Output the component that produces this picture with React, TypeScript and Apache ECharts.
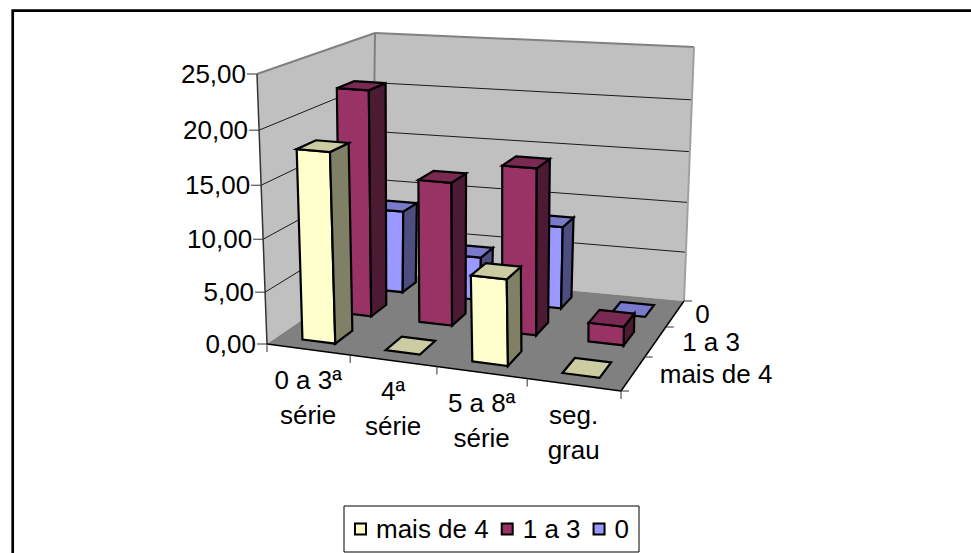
import React, { useEffect, useRef } from "react";
import * as echarts from "echarts";

const categories = ["0 a 3ª\nsérie", "4ª\nsérie", "5 a 8ª\nsérie", "seg.\ngrau"];
const rows = ["mais de 4", "1 a 3", "0"];
const maisDe4 = [18, 0, 8, 0];
const umATres = [22, 13.9, 15.9, 1.8];
const zero = [8.4, 4.4, 8.2, 0];
const yTicks = [0, 5, 10, 15, 20, 25];
const yTickLabels = ["0,00", "5,00", "10,00", "15,00", "20,00", "25,00"];

const FONT = '26px "Liberation Sans", Arial, sans-serif';
const G = { left: 100, top: 100, w: 400, h: 300 };
const floor = { fl: [267, 344], fr: [621, 391], bl: [372, 272], br: [684, 301] };
const ceil = { fl: [257, 74], fr: [618, 100], bl: [375, 33], br: [694, 47] };
const rowLabelOffset = [26.5, 26.5, 20];

const warpU = (u: number) => u - 0.08 * u * (1 - u);
const warpV = (v: number) => v + 0.2 * v * (1 - v);
const warpH = (h: number) => h - 0.05 * h * (1 - h);
const bil = (q: any, u: number, v: number) =>
  [0, 1].map(
    (i) =>
      q.fl[i] * (1 - u) * (1 - v) + q.fr[i] * u * (1 - v) + q.bl[i] * (1 - u) * v + q.br[i] * u * v
  );
function P(u0: number, v0: number, h0: number): number[] {
  const u = warpU(u0), v = warpV(v0), h = warpH(h0);
  const a = bil(floor, u, v), b = bil(ceil, u, v);
  return [a[0] + (b[0] - a[0]) * h, a[1] + (b[1] - a[1]) * h];
}
const poly = (points: number[][], fill: string, stroke: string, lineWidth = 1) => ({
  type: "polygon",
  shape: { points },
  style: { fill, stroke, lineWidth, lineJoin: "miter" },
});
const seg = (a: number[], b: number[], stroke: string, lineWidth = 1) => ({
  type: "line",
  shape: { x1: a[0], y1: a[1], x2: b[0], y2: b[1] },
  style: { stroke, lineWidth },
});
const txt = (text: string, x: number, y: number, align: string, verticalAlign = "middle") => ({
  type: "text",
  style: { text, x, y, font: FONT, fill: "#000", align, verticalAlign, lineHeight: 35 },
});

function frameItem(_p: any, api: any) {
  const children: any[] = [];
  const toH = (val: number) => (G.top + G.h - api.coord([0, val])[1]) / G.h;
  const toU = (i: number) => (api.coord([i, 0])[0] - G.left) / G.w;
  const band = api.size([1, 0])[0] / G.w;
  children.push(poly([P(0, 0, 0), P(0, 1, 0), P(0, 1, 1), P(0, 0, 1)], "#c0c0c0", "none"));
  children.push(poly([P(0, 1, 0), P(1, 1, 0), P(1, 1, 1), P(0, 1, 1)], "#c0c0c0", "none"));
  children.push(poly([P(0, 0, 0), P(1, 0, 0), P(1, 1, 0), P(0, 1, 0)], "#808080", "none"));
  yTicks.forEach((t, i) => {
    const h = toH(t);
    if (i > 0 && i < yTicks.length - 1) {
      children.push(seg(P(0, 0, h), P(0, 1, h), "#1a1a1a"));
      children.push(seg(P(0, 1, h), P(1, 1, h), "#1a1a1a"));
    }
    const p = P(0, 0, h);
    children.push(seg([p[0] - 10, p[1]], p, "#333"));
    children.push(txt(yTickLabels[i], p[0] - 11, p[1], "right"));
  });
  children.push(seg(P(0, 0, 1), P(0, 1, 1), "#808080", 2));
  children.push(seg(P(0, 1, 1), P(1, 1, 1), "#808080", 2));
  children.push(seg(P(0, 1, 0), P(0, 1, 1), "#808080", 2));
  children.push(seg(P(1, 1, 0), P(1, 1, 1), "#a0a0a0", 2));
  children.push(seg(P(0, 0, 0), P(0, 0, 1), "#333", 1.5));
  children.push(seg(P(0, 0, 0), P(1, 0, 0), "#000", 1.5));
  children.push(seg(P(1, 0, 0), P(1, 1, 0), "#000", 1.5));
  categories.forEach((c, i) => {
    const cu = toU(i);
    const t = P(cu + band / 2, 0, 0);
    children.push(seg(t, [t[0], t[1] + 8], "#333"));
    const m = P(cu, 0, 0);
    children.push(txt(c, m[0], m[1] + 13, "center", "top"));
  });
  const o = P(0, 0, 0);
  children.push(seg(o, [o[0], o[1] + 8], "#333"));
  rows.forEach((r, i) => {
    const a = P(1, i / 3, 0);
    children.push(seg(a, [a[0] + 8, a[1]], "#333"));
    const m = P(1, (i + 0.5) / 3, 0);
    children.push(txt(r, m[0] + rowLabelOffset[i], m[1], "left"));
  });
  const e = P(1, 1, 0);
  children.push(seg(e, [e[0] + 8, e[1]], "#333"));
  return { type: "group", children };
}

const barItem = (row: number, front: string, top: string, side: string) => (_p: any, api: any) => {
  const c = api.coord([api.value(0), api.value(1)]);
  const band = api.size([1, 0])[0] / G.w;
  const cu = (c[0] - G.left) / G.w;
  const h = (G.top + G.h - c[1]) / G.h;
  const u0 = cu - band * 0.2, u1 = cu + band * 0.2;
  const v0 = (row + 0.27) / 3, v1 = (row + 0.73) / 3;
  const a = P(u0, v0, 0), b = P(u1, v0, 0), d = P(u1, v1, 0);
  const at = P(u0, v0, h), bt = P(u1, v0, h), dt = P(u1, v1, h), et = P(u0, v1, h);
  const W = 2.2;
  const children: any[] = [];
  if (h > 0) {
    children.push(poly([a, b, bt, at], front, "#000", W));
    children.push(poly([b, d, dt, bt], side, "#000", W));
  }
  children.push(poly([at, bt, dt, et], top, "#000", W));
  return { type: "group", children };
};

const rowSeries = (name: string, vals: number[], row: number, c: string, t: string, s: string) => ({
  name,
  type: "custom",
  coordinateSystem: "cartesian2d",
  silent: true,
  itemStyle: { color: c, borderColor: "#000", borderWidth: 1.5 },
  encode: { x: 0, y: 1 },
  data: vals.map((v, i) => [i, v]),
  renderItem: barItem(row, c, t, s),
});

export default function App() {
  const ref = useRef<HTMLDivElement>(null);
  useEffect(() => {
    const chart = echarts.init(ref.current!, undefined, { renderer: "svg" });
    chart.setOption({
      animation: false,
      backgroundColor: "#fff",
      textStyle: { fontFamily: '"Liberation Sans", Arial, sans-serif' },
      grid: { left: G.left, top: G.top, width: G.w, height: G.h, show: false },
      xAxis: { type: "category", data: categories, show: false },
      yAxis: { type: "value", min: 0, max: 25, interval: 5, show: false },
      legend: {
        data: rows,
        left: 344,
        top: 506,
        orient: "horizontal",
        padding: [10, 10, 10, 10],
        itemGap: 12,
        itemWidth: 11,
        itemHeight: 11,
        icon: "rect",
        borderColor: "#000",
        borderWidth: 1,
        backgroundColor: "#fff",
        selectedMode: false,
        textStyle: { fontSize: 26, color: "#000", padding: [0, 0, 0, 5], fontFamily: '"Liberation Sans", Arial, sans-serif' },
      },
      graphic: [
        {
          type: "rect",
          shape: { x: 12.7, y: 10.7, width: 1100, height: 700 },
          style: { fill: "none", stroke: "#000", lineWidth: 2.7 },
          silent: true,
        },
      ],
      series: [
        {
          type: "custom",
          name: "paredes",
          coordinateSystem: "cartesian2d",
          silent: true,
          data: [[0, 0]],
          encode: { x: 0, y: 1 },
          renderItem: frameItem,
        },
        rowSeries(rows[2], zero, 2, "#9999ff", "#7a7acc", "#4d4d80"),
        rowSeries(rows[1], umATres, 1, "#993366", "#7a2952", "#4d1a33"),
        rowSeries(rows[0], maisDe4, 0, "#ffffcc", "#cccca3", "#808066"),
      ],
    });
    return () => chart.dispose();
  }, []);
  return <div ref={ref} style={{ position: "fixed", left: 0, top: 0, width: 971, height: 553, overflow: "hidden" }} />;
}
